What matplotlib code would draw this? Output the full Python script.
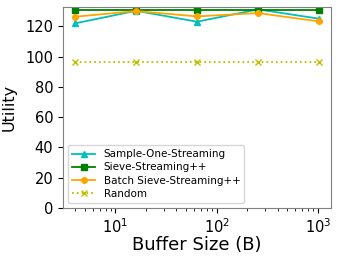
import matplotlib
matplotlib.use('Agg')
import matplotlib.pyplot as plt
import numpy as np

buffer_sizes = [4, 16, 64, 256, 1024]
sample_one = [121.9, 130.2, 123.0, 131.1, 125.0]
sieve_pp = [130.5, 130.5, 130.5, 130.5, 130.5]
batch_sieve = [126.3, 130.0, 126.5, 128.7, 123.2]
random_vals = [96.2, 96.2, 96.2, 96.2, 96.2]

fig = plt.figure(figsize=(3.4, 2.56), dpi=100)
ax = fig.add_axes([0.185, 0.1875, 0.789, 0.786])

ax.plot(buffer_sizes, sample_one, color='c', marker='^', markersize=4, lw=1.3, label='Sample-One-Streaming')
ax.plot(buffer_sizes, sieve_pp, color='g', marker='s', markersize=4, lw=1.3, label='Sieve-Streaming++')
ax.plot(buffer_sizes, batch_sieve, color='orange', marker='o', markersize=4, lw=1.3, label='Batch Sieve-Streaming++')
ax.plot(buffer_sizes, random_vals, color='y', marker='x', markersize=4, lw=1.3, ls=':', label='Random')

ax.set_xscale('log')
ax.set_ylim(bottom=0)
ax.set_yticks([0, 20, 40, 60, 80, 100, 120])
ax.tick_params(labelsize=10.5)
ax.set_xlabel('Buffer Size (B)', fontsize=13, labelpad=-0.5)
ax.set_ylabel('Utility', fontsize=11.5, labelpad=6)
for s in ax.spines.values():
    s.set_color('0.5')
ax.legend(loc='lower left', fontsize=7.5, handlelength=2.2, labelspacing=0.3)

fig.savefig('out.png', dpi=100)
